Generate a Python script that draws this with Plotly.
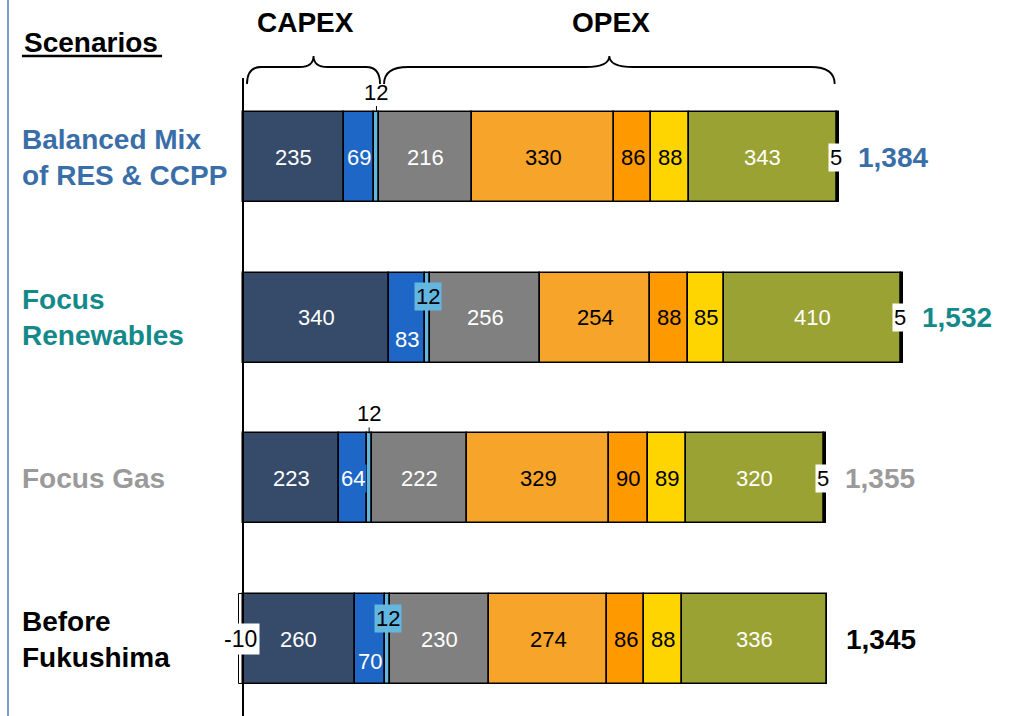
import plotly.graph_objects as go

# ---------------- data ----------------
scenarios = ["Balanced Mix<br>of RES & CCPP", "Focus<br>Renewables", "Focus Gas", "Before<br>Fukushima"]
scenario_colors = ["#3A6EA8", "#13898A", "#9A9A9A", "#000000"]
adjustment = [0, 0, 0, -10]
capex_a = [235, 340, 223, 260]
capex_b = [69, 83, 64, 70]
capex_c = [12, 12, 12, 12]
opex_a = [216, 256, 222, 230]
opex_b = [330, 254, 329, 274]
opex_c = [86, 88, 90, 86]
opex_d = [88, 85, 89, 88]
opex_e = [343, 410, 320, 336]
opex_f = [5, 5, 5, 0]
totals = [1384, 1532, 1355, 1345]

# ---------------- styling ----------------
W, H = 1012, 716
X0PX, SCALE = 243, 0.4305          # pixel of value 0, pixels per unit
Y0PX, YSTEP = 157, 160.7           # pixel of first bar centre, spacing
BARW = 0.56
FONT = "Liberation Sans, Arial, sans-serif"

components = [
    ("CAPEX A", capex_a, "#364A6A", "white"),
    ("CAPEX B", capex_b, "#1F67C6", "white"),
    ("CAPEX C", capex_c, "#62B6E0", "black"),
    ("OPEX A", opex_a, "#808080", "white"),
    ("OPEX B", opex_b, "#F7A42A", "black"),
    ("OPEX C", opex_c, "#FF9900", "black"),
    ("OPEX D", opex_d, "#FFD500", "black"),
    ("OPEX E", opex_e, "#9AA233", "white"),
    ("OPEX F", opex_f, "#000000", "black"),
]

ys = list(range(len(scenarios)))
xr = [(0 - X0PX) / SCALE, (W - X0PX) / SCALE]
yr = [(H - Y0PX) / YSTEP, (0 - Y0PX) / YSTEP]


def py(p):
    return 1 - p / H


def px(p):
    return p / W


fig = go.Figure()

fig.add_trace(go.Bar(
    y=ys, x=adjustment, orientation="h", width=BARW, name="Adjustment",
    marker=dict(color="white", line=dict(color="black", width=1)),
    showlegend=False, hoverinfo="x"))
for name, vals, col, tcol in components:
    fig.add_trace(go.Bar(
        y=ys, x=vals, orientation="h", width=BARW, name=name,
        marker=dict(color=col, line=dict(color="black", width=1.5)),
        showlegend=False, hoverinfo="x"))

annotations = []
shapes = []

for i in ys:
    base = 0.0
    # negative adjustment label
    if adjustment[i] != 0:
        annotations.append(dict(x=adjustment[i] / 2, y=i, text=str(adjustment[i]), showarrow=False,
                                font=dict(family=FONT, size=23, color="black"),
                                bgcolor="white", borderpad=2))
    for name, vals, col, tcol in components:
        v = vals[i]
        if v == 0:
            continue
        cx = base + v / 2
        a = dict(x=cx, y=i, text=str(v), showarrow=False,
                 font=dict(family=FONT, size=22, color=tcol))
        if name == "CAPEX C":
            if i in (0, 2):
                a.update(y=i - BARW / 2, showarrow=True, arrowhead=0, arrowwidth=1,
                         arrowcolor="black", ax=0, ay=-20, standoff=0,
                         font=dict(family=FONT, size=22, color="black"))
            else:
                a.update(yshift=21, bgcolor=col, borderpad=1)
        elif name == "CAPEX B":
            if i in (1, 3):
                a.update(yshift=-22)
            elif i == 2:
                a.update(bgcolor=col, borderpad=1)
        elif name == "OPEX F":
            a.update(x=base + v, xshift=-3, bgcolor="white", borderpad=1)
        annotations.append(a)
        base += v
    # total label
    annotations.append(dict(x=base, y=i, text="<b>%s</b>" % f"{totals[i]:,}", showarrow=False,
                            xanchor="left", xshift=17,
                            font=dict(family=FONT, size=28, color=scenario_colors[i])))
    # scenario label
    annotations.append(dict(x=px(20), xref="paper", y=i, text="<b>%s</b>" % scenarios[i],
                            showarrow=False, xanchor="left", align="left",
                            font=dict(family=FONT, size=28, color=scenario_colors[i])))

# headers
annotations.append(dict(x=px(22), y=py(43), xref="paper", yref="paper", text="<b>Scenarios</b>",
                        showarrow=False, xanchor="left", yanchor="middle",
                        font=dict(family=FONT, size=28, color="black")))
annotations.append(dict(x=px(305), y=py(22), xref="paper", yref="paper", text="<b>CAPEX</b>",
                        showarrow=False, xanchor="center", yanchor="middle",
                        font=dict(family=FONT, size=28, color="black")))
annotations.append(dict(x=px(611), y=py(22), xref="paper", yref="paper", text="<b>OPEX</b>",
                        showarrow=False, xanchor="center", yanchor="middle",
                        font=dict(family=FONT, size=28, color="black")))

# underline of Scenarios
shapes.append(dict(type="line", xref="paper", yref="paper", x0=px(22), x1=px(162),
                   y0=py(56), y1=py(56), line=dict(color="black", width=2.5)))
# left border
shapes.append(dict(type="line", xref="paper", yref="paper", x0=px(8), x1=px(8),
                   y0=0, y1=1, line=dict(color="#7E9BC4", width=2)))
# zero axis line
shapes.append(dict(type="line", xref="x", yref="paper", x0=0, x1=0,
                   y0=py(78), y1=0, line=dict(color="black", width=2)))


def brace(x0, x1, r):
    ye, ym, yt = py(84), py(67), py(56)
    xm = (x0 + x1) / 2
    return (f"M {x0},{ye} Q {x0},{ym} {x0 + r},{ym} L {xm - r},{ym} "
            f"Q {xm},{ym} {xm},{yt} Q {xm},{ym} {xm + r},{ym} L {x1 - r},{ym} "
            f"Q {x1},{ym} {x1},{ye}")


capex_total = capex_a[0] + capex_b[0] + capex_c[0]
opex_end = totals[0] - opex_f[0]
shapes.append(dict(type="path", xref="x", yref="paper",
                   path=brace(0 + 4 / SCALE, capex_total + 1 / SCALE, 14 / SCALE),
                   line=dict(color="black", width=1.8)))
shapes.append(dict(type="path", xref="x", yref="paper",
                   path=brace(capex_total + 5 / SCALE, opex_end - 2 / SCALE, 24 / SCALE),
                   line=dict(color="black", width=1.8)))

fig.update_layout(
    width=W, height=H, margin=dict(l=0, r=0, t=0, b=0),
    barmode="relative", bargap=0,
    plot_bgcolor="white", paper_bgcolor="white",
    xaxis=dict(range=xr, visible=False, fixedrange=True),
    yaxis=dict(range=yr, visible=False, fixedrange=True),
    annotations=annotations, shapes=shapes,
    font=dict(family=FONT),
)

fig.write_html("out.html")
